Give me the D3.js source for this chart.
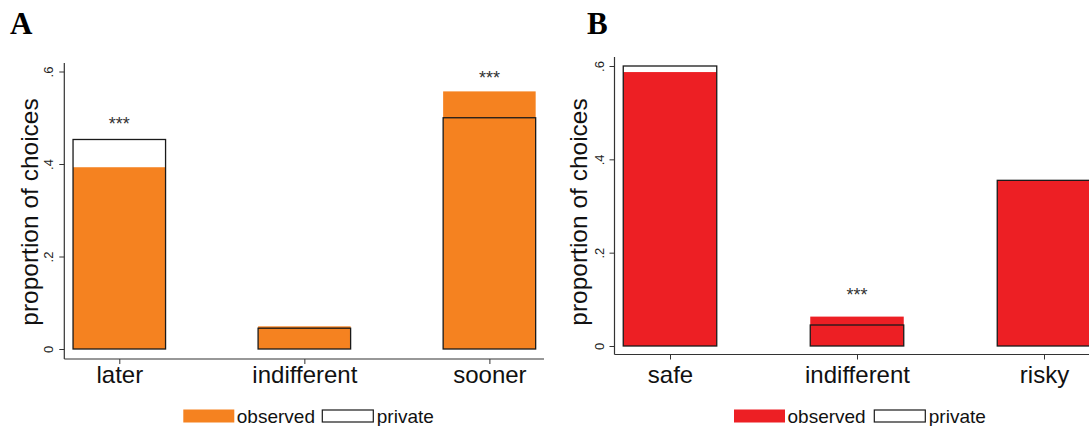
<!DOCTYPE html>
<html><head><meta charset="utf-8">
<script src="https://cdn.jsdelivr.net/npm/d3@7"></script>
<style>
html,body{margin:0;padding:0;background:#fff;}
svg{display:block;font-family:"Liberation Sans",Arial,Helvetica,sans-serif;}
</style></head>
<body>
<svg id="chart" width="1089" height="426"></svg>
<script>
// ---- data ----
const catsA = ["later", "indifferent", "sooner"];
const observedA = [0.393, 0.049, 0.557];
const privateA = [0.453, 0.045, 0.500];
const sigA = ["***", "", "***"];
const sigPosA = [0.495, null, 0.595];

const catsB = ["safe", "indifferent", "risky"];
const observedB = [0.587, 0.063, 0.355];
const privateB = [0.600, 0.045, 0.355];
const sigB = ["", "***", ""];
const sigPosB = [null, 0.118, null];

const yTicks = [0, 0.2, 0.4, 0.6];
const yTickLabels = ["0", ".2", ".4", ".6"];
const legendLabels = ["observed", "private"];
const yTitle = "proportion of choices";

const svg = d3.select("#chart");

function panel(cfg) {
  const g = svg.append("g");
  const y = d3.scaleLinear().domain([0, 0.6]).range([cfg.y0, cfg.y6]);
  const x = d3.scalePoint().domain(cfg.cats).range([cfg.xFirst, cfg.xLast]);
  const barW = x.step() * 0.5;

  // panel letter
  g.append("text").attr("x", cfg.letterX).attr("y", 34)
    .attr("font-family", "'Liberation Serif','Times New Roman',serif")
    .attr("font-weight", "bold").attr("font-size", 31).attr("fill", "#000")
    .text(cfg.letter);

  // bars
  const rows = cfg.cats.map((c, i) => ({c, o: cfg.obs[i], p: cfg.priv[i], s: cfg.sig[i], sp: cfg.sigPos[i]}));
  g.selectAll("rect.obs").data(rows).join("rect").attr("class", "obs")
    .attr("x", d => x(d.c) - barW / 2).attr("width", barW)
    .attr("y", d => y(d.o)).attr("height", d => y(0) - y(d.o))
    .attr("fill", cfg.color);
  g.selectAll("rect.priv").data(rows).join("rect").attr("class", "priv")
    .attr("x", d => x(d.c) - barW / 2).attr("width", barW)
    .attr("y", d => y(d.p)).attr("height", d => y(0) - y(d.p))
    .attr("fill", "none").attr("stroke", "#1a1a1a").attr("stroke-width", 1.3);

  // significance stars
  g.selectAll("text.sig").data(rows.filter(d => d.s)).join("text").attr("class", "sig")
    .attr("x", d => x(d.c)).attr("y", d => y(d.sp) + 10)
    .attr("text-anchor", "middle").attr("font-size", 18).attr("fill", "#333")
    .text(d => d.s);

  // y axis
  const ya = g.append("g").attr("transform", `translate(${cfg.axisX},0)`)
    .call(d3.axisLeft(y).tickValues(yTicks).tickFormat((d, i) => yTickLabels[i]).tickSize(5).tickSizeOuter(0));
  ya.select(".domain").remove();
  ya.selectAll(".tick line").attr("stroke", "#333").attr("stroke-width", 1);
  ya.selectAll(".tick text")
    .attr("x", null).attr("dy", null)
    .attr("transform", "translate(-11,0) rotate(-90)")
    .attr("text-anchor", "middle")
    .attr("font-size", 13).attr("fill", "#222")
    .attr("font-family", "'Liberation Sans',Arial,sans-serif");
  g.append("line").attr("x1", cfg.axisX).attr("x2", cfg.axisX)
    .attr("y1", cfg.axisTop).attr("y2", cfg.axisBottom)
    .attr("stroke", "#333").attr("stroke-width", 1.2);

  // x axis
  const xa = g.append("g").attr("transform", `translate(0,${cfg.axisBottom})`)
    .call(d3.axisBottom(x).tickSize(5).tickSizeOuter(0));
  xa.select(".domain").remove();
  xa.selectAll(".tick line").attr("stroke", "#333").attr("stroke-width", 1);
  xa.selectAll(".tick text").attr("y", null).attr("dy", null)
    .attr("transform", `translate(0,${383 - cfg.axisBottom})`)
    .attr("font-size", 24).attr("fill", "#111")
    .attr("font-family", "'Liberation Sans',Arial,sans-serif");
  g.append("line").attr("x1", cfg.axisX).attr("x2", cfg.axisRight)
    .attr("y1", cfg.axisBottom).attr("y2", cfg.axisBottom)
    .attr("stroke", "#333").attr("stroke-width", 1.2);

  // y title
  g.append("text")
    .attr("transform", `translate(${cfg.titleX},212) rotate(-90)`)
    .attr("text-anchor", "middle").attr("font-size", 24.5).attr("fill", "#111")
    .text(yTitle);

  // legend
  const lg = g.append("g");
  lg.append("rect").attr("x", cfg.leg[0]).attr("y", 409.5).attr("width", 51).attr("height", 13)
    .attr("fill", cfg.color);
  lg.append("text").attr("x", cfg.leg[0] + 53.5).attr("y", 423).attr("font-size", 19).attr("fill", "#111")
    .text(legendLabels[0]);
  lg.append("rect").attr("x", cfg.leg[1]).attr("y", 410).attr("width", 51).attr("height", 12)
    .attr("fill", "#fff").attr("stroke", "#1a1a1a").attr("stroke-width", 1.2);
  lg.append("text").attr("x", cfg.leg[1] + 54.5).attr("y", 423).attr("font-size", 19).attr("fill", "#111")
    .text(legendLabels[1]);
}

panel({
  letter: "A", letterX: 10, cats: catsA, obs: observedA, priv: privateA, sig: sigA, sigPos: sigPosA,
  color: "#F58220", y0: 349, y6: 71.5, xFirst: 119.3, xLast: 489.4,
  axisX: 64.3, axisTop: 63, axisBottom: 359, axisRight: 544, titleX: 38, leg: [183.3, 322.3]
});
panel({
  letter: "B", letterX: 587, cats: catsB, obs: observedB, priv: privateB, sig: sigB, sigPos: sigPosB,
  color: "#ED1F24", y0: 346, y6: 66, xFirst: 670, xLast: 1044,
  axisX: 614.5, axisTop: 57, axisBottom: 354.5, axisRight: 1100, titleX: 587, leg: [734, 874.3]
});
</script>
</body></html>
